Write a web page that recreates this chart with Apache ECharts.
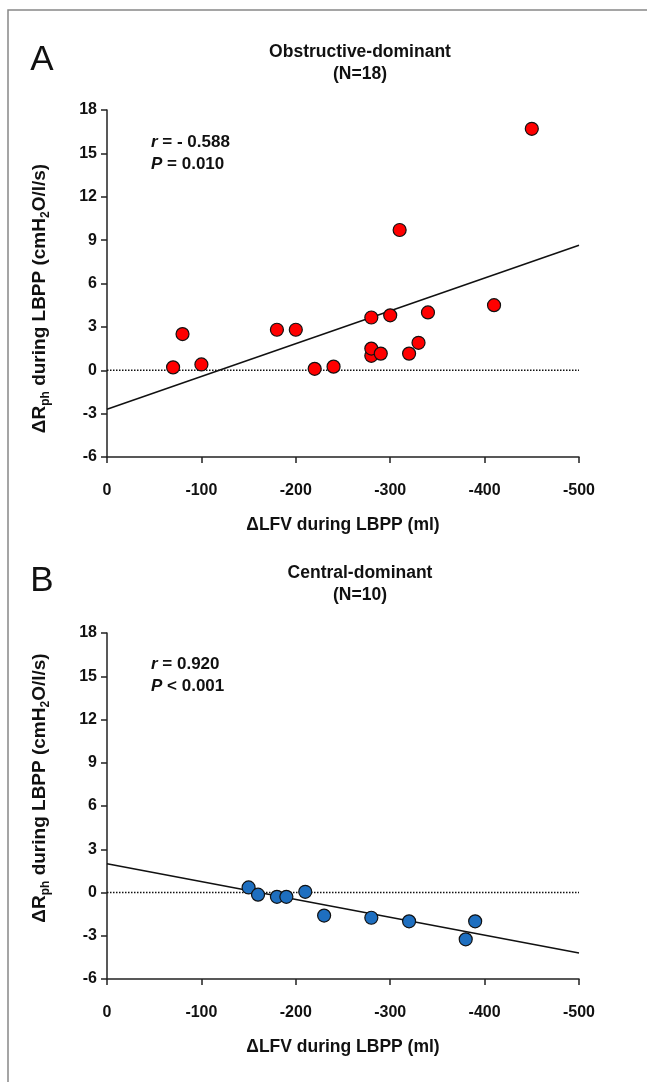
<!DOCTYPE html>
<html>
<head>
<meta charset="utf-8">
<script src="https://cdn.jsdelivr.net/npm/echarts@6/dist/echarts.min.js"></script>
<style>
  html, body { margin: 0; padding: 0; background: #fff; }
  #main { width: 647px; height: 1082px; }
</style>
</head>
<body>
<div id="main"></div>
<script>
// 数据 (ml, cmH2O/l/s)
var obstructiveX = [-70, -80, -100, -180, -200, -220, -240, -280, -280, -280, -290, -300, -310, -320, -330, -340, -410, -450];
var obstructiveY = [0.2, 2.5, 0.4, 2.8, 2.8, 0.1, 0.25, 3.65, 1.0, 1.5, 1.15, 3.8, 9.7, 1.15, 1.9, 4.0, 4.5, 16.7];
var centralX = [-150, -160, -180, -190, -210, -230, -280, -320, -380, -390];
var centralY = [0.35, -0.15, -0.3, -0.3, 0.05, -1.6, -1.75, -2.0, -3.25, -2.0];
// 回归线端点
var fitA = [[0, -2.7], [-500, 8.65]];
var fitB = [[0, 2.0], [-500, -4.2]];
var zeroLine = [[0, 0], [-500, 0]];
var xTicks = [0, -100, -200, -300, -400, -500];
var yTicks = [-6, -3, 0, 3, 6, 9, 12, 15, 18];

var FONT = '"Liberation Sans", Arial, sans-serif';

function pairs(xs, ys){
    var out = [];
    for (var i = 0; i < xs.length; i++) { out.push([xs[i], ys[i]]); }
    return out;
}

function xAxisOpt(idx){
    return {
        gridIndex: idx,
        type: 'value',
        min: xTicks[xTicks.length - 1],
        max: xTicks[0],
        interval: 100,
        inverse: true,
        name: 'ΔLFV during LBPP (ml)',
        nameLocation: 'middle',
        nameGap: 59,
        nameTextStyle: { fontFamily: FONT, fontSize: 17.5, fontWeight: 'bold', color: '#111' },
        axisLine: { onZero: false, lineStyle: { color: '#222', width: 1.5 } },
        axisTick: { length: 6, lineStyle: { color: '#222', width: 1.5 } },
        axisLabel: { margin: 26, fontFamily: FONT, fontSize: 16, fontWeight: 'bold', color: '#111' },
        splitLine: { show: false }
    };
}

// pad: 旋转后标题的上下偏移 [本地右, 本地左]
function yAxisOpt(idx, pad){
    return {
        gridIndex: idx,
        type: 'value',
        min: yTicks[0],
        max: yTicks[yTicks.length - 1],
        interval: 3,
        name: '{n|ΔR}{s|ph}{n| during LBPP (cmH}{s|2}{n|O/l/s)}',
        nameLocation: 'middle',
        nameRotate: 90,
        nameGap: 55,
        nameTextStyle: {
            fontFamily: FONT, fontSize: 19, fontWeight: 'bold', color: '#111',
            padding: [0, pad[0], 0, pad[1]],
            rich: {
                n: { fontFamily: FONT, fontSize: 19, fontWeight: 'bold', color: '#111', lineHeight: 24 },
                s: { fontFamily: FONT, fontSize: 12, fontWeight: 'bold', color: '#111', lineHeight: 14, verticalAlign: 'bottom' }
            }
        },
        axisLine: { onZero: false, lineStyle: { color: '#222', width: 1.5 } },
        axisTick: { length: 6, lineStyle: { color: '#222', width: 1.5 } },
        axisLabel: { margin: 10, fontFamily: FONT, fontSize: 16, fontWeight: 'bold', color: '#111' },
        splitLine: { show: false }
    };
}

function lineSeries(idx, data, type, width){
    return {
        type: 'line',
        xAxisIndex: idx, yAxisIndex: idx,
        data: data,
        symbol: 'none',
        silent: true,
        z: 2,
        lineStyle: { color: '#111', width: width, type: type }
    };
}

function scatterSeries(idx, data, color){
    return {
        type: 'scatter',
        xAxisIndex: idx, yAxisIndex: idx,
        data: data,
        symbolSize: 13,
        z: 5,
        itemStyle: { color: color, borderColor: '#111', borderWidth: 1.2, opacity: 1 }
    };
}

function statText(y, rLine, pLine){
    return {
        type: 'text', left: 151, top: y, z: 10,
        style: {
            text: rLine + '\n' + pLine,
            fontFamily: FONT, fontSize: 17, fontWeight: 'bold', fill: '#111', lineHeight: 22,
            rich: {
                i: { fontFamily: FONT, fontSize: 17, fontWeight: 'bold', fontStyle: 'italic', fill: '#111', lineHeight: 22 }
            }
        }
    };
}

function panelTitle(y, text){
    return {
        type: 'text', x: 360, y: y,
        style: { text: text, textAlign: 'center', fontFamily: FONT, fontSize: 17.5, fontWeight: 'bold', fill: '#111', lineHeight: 22 }
    };
}

var chart = echarts.init(document.getElementById('main'), null, { renderer: 'canvas' });
chart.setOption({
    backgroundColor: '#fff',
    animation: false,
    grid: [
        { left: 107, top: 110, width: 472, height: 347 },
        { left: 107, top: 633, width: 472, height: 346 }
    ],
    xAxis: [xAxisOpt(0), xAxisOpt(1)],
    yAxis: [yAxisOpt(0, [30, 0]), yAxisOpt(1, [0, 36])],
    graphic: [
        { type: 'rect', shape: { x: 8, y: 10, width: 700, height: 1150 }, style: { fill: 'none', stroke: '#888', lineWidth: 1.5 }, z: 0, silent: true },
        { type: 'text', x: 42, y: 43, style: { text: 'A', textAlign: 'center', fontFamily: FONT, fontSize: 35, fill: '#111' } },
        panelTitle(41, 'Obstructive-dominant\n(N=18)'),
        { type: 'text', x: 42, y: 564, style: { text: 'B', textAlign: 'center', fontFamily: FONT, fontSize: 35, fill: '#111' } },
        panelTitle(562, 'Central-dominant\n(N=10)'),
        statText(131, '{i|r} = - 0.588', '{i|P} = 0.010'),
        statText(653, '{i|r} = 0.920', '{i|P} < 0.001')
    ],
    series: [
        lineSeries(0, zeroLine, 'dotted', 1.5),
        lineSeries(0, fitA, 'solid', 1.5),
        scatterSeries(0, pairs(obstructiveX, obstructiveY), '#ff0000'),
        lineSeries(1, zeroLine, 'dotted', 1.5),
        lineSeries(1, fitB, 'solid', 1.5),
        scatterSeries(1, pairs(centralX, centralY), '#1e6fc0')
    ]
});
</script>
</body>
</html>
